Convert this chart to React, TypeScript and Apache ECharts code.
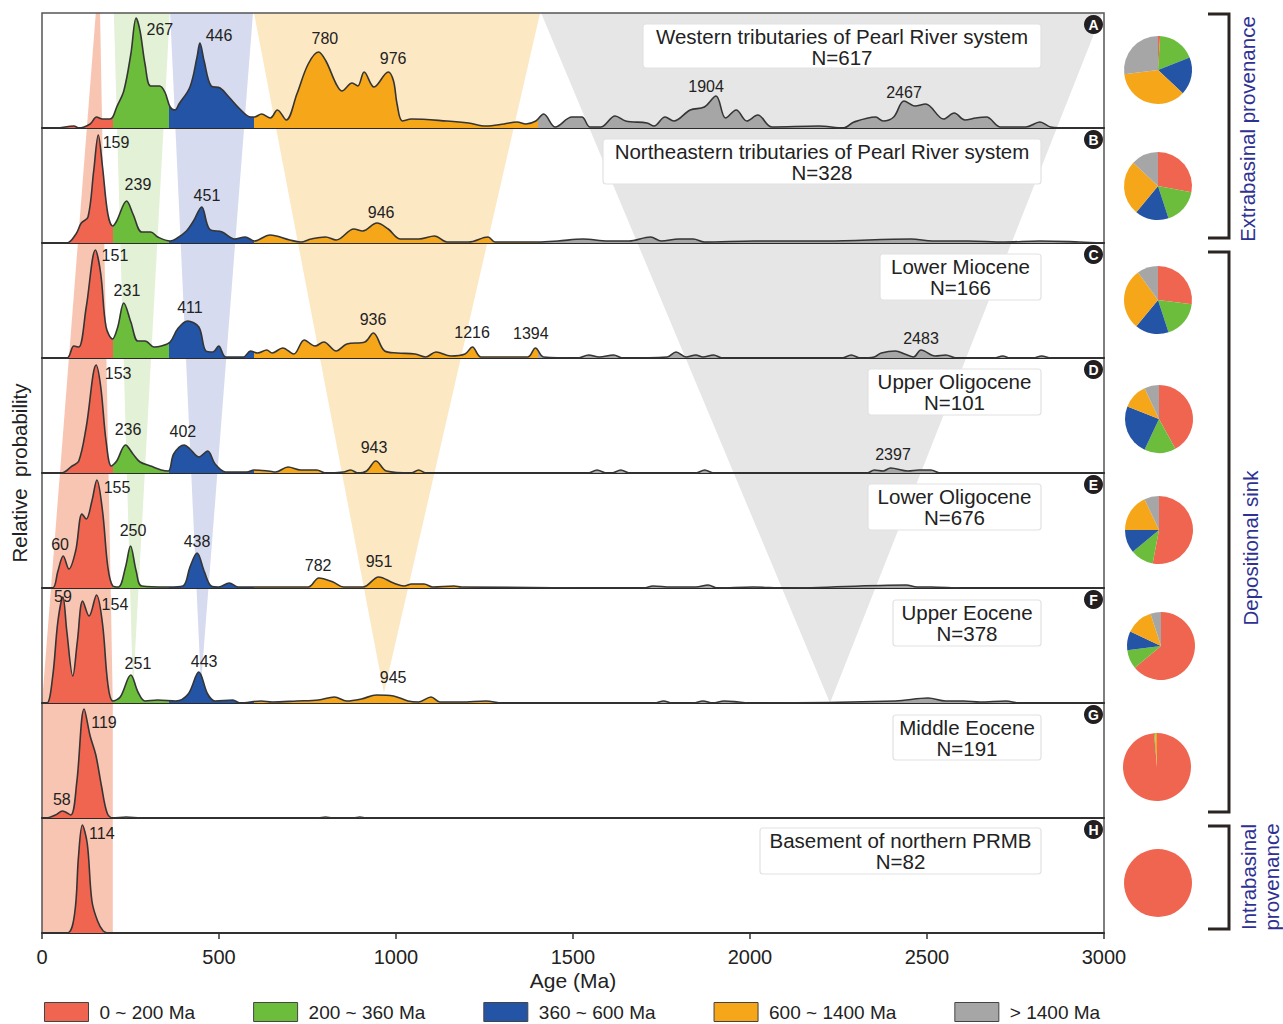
import React, { useEffect, useRef } from "react";
import * as echarts from "echarts";

const FONT = "'Liberation Sans', Arial, Helvetica, sans-serif";

// Age ranges
const RANGE_NAMES = ["0 ~ 200 Ma", "200 ~ 360 Ma", "360 ~ 600 Ma", "600 ~ 1400 Ma", "> 1400 Ma"];
const RANGE_COLORS = ["#ef6550", "#6dbd3d", "#2354a5", "#f6a619", "#a6a6a6"];
const BAND_COLORS = ["#f9c5b3", "#e3f1d7", "#d6dbef", "#fde8c4", "#e6e6e6"];

const X_TICKS_MIN = 0;
const X_TICKS_MAX = 3000;
const X_TICK_STEP = 500;
const Y_MAX = 115;

const PANEL_LETTERS = ["A", "B", "C", "D", "E", "F", "G", "H"];
const PANEL_TITLES = [
  "Western tributaries of Pearl River system",
  "Northeastern tributaries of Pearl River system",
  "Lower Miocene",
  "Upper Oligocene",
  "Lower Oligocene",
  "Upper Eocene",
  "Middle Eocene",
  "Basement of northern PRMB",
];
const PANEL_N = ["N=617", "N=328", "N=166", "N=101", "N=676", "N=378", "N=191", "N=82"];

// KDE curves: [age Ma, relative probability]
const KDE_A: [number, number][] = [[0,0],[40,0],[90,2],[104,0],[136,4],[154,11],[171,9],[191,9],[200,11],[211,21],[231,37],[251,74],[266,110],[277,97],[291,64],[307,42],[332,42],[347,36],[362,21],[376,18],[387,24],[418,41],[438,71],[446,85],[458,67],[478,42],[503,40],[528,31],[559,19],[590,11],[600,11],[620,14],[645,10],[665,18],[690,8],[720,34],[752,64],[781,76],[802,67],[831,44],[847,37],[876,45],[892,42],[910,56],[938,41],[978,56],[993,47],[1003,24],[1018,7],[1044,9],[1144,7],[1205,5],[1254,2],[1305,4],[1342,6],[1367,4],[1395,7],[1417,14],[1450,1],[1497,11],[1525,11],[1548,1],[1578,1],[1619,12],[1649,7],[1709,5],[1729,2],[1760,11],[1785,7],[1831,18],[1871,21],[1904,32],[1931,10],[1961,18],[1991,7],[2022,13],[2062,1],[2194,2],[2264,0],[2294,6],[2355,11],[2376,7],[2406,11],[2435,27],[2466,22],[2496,24],[2547,9],[2577,15],[2607,8],[2638,10],[2668,11],[2708,1],[2779,1],[2819,6],[2849,1],[2900,0],[3000,0]];
const KDE_B: [number, number][] = [[0,0],[70,0],[96,9],[111,20],[130,26],[146,72],[159,108],[171,76],[186,29],[200,17],[211,22],[239,42],[257,29],[282,11],[307,11],[327,6],[362,2],[378,4],[408,12],[428,22],[451,36],[473,14],[509,11],[544,4],[574,6],[600,2],[644,8],[700,3],[731,1],[760,4],[801,6],[831,3],[881,14],[906,12],[946,20],[978,14],[1013,4],[1064,4],[1109,7],[1144,1],[1205,1],[1260,6],[1280,1],[1400,1],[1457,2],[1528,4],[1599,2],[1658,2],[1719,6],[1749,2],[1799,4],[1840,4],[1871,1],[2012,2],[2214,2],[2455,4],[2516,2],[2617,2],[2718,1],[2819,2],[2930,1],[3000,0]];
const KDE_C: [number, number][] = [[0,0],[70,0],[90,12],[104,11],[125,51],[151,108],[166,84],[181,31],[199,19],[214,31],[231,55],[251,36],[271,17],[291,17],[317,11],[337,12],[362,16],[383,29],[411,37],[443,31],[463,7],[483,6],[499,12],[519,1],[569,1],[589,7],[609,5],[635,8],[650,5],[680,10],[711,4],[741,18],[771,12],[796,16],[831,7],[861,14],[912,16],[936,25],[968,7],[1003,5],[1054,4],[1084,1],[1113,6],[1155,2],[1195,4],[1216,11],[1240,1],[1372,1],[1394,10],[1417,1],[1514,0],[1544,3],[1574,1],[1615,3],[1640,0],[1766,1],[1791,6],[1819,1],[1847,3],[1867,1],[1897,3],[1922,0],[2260,0],[2286,3],[2311,0],[2351,1],[2371,5],[2411,7],[2437,4],[2462,1],[2483,8],[2523,2],[2553,3],[2583,0],[2690,0],[2714,2],[2734,0],[2800,0],[2824,2],[2850,0],[3000,0]];
const KDE_D: [number, number][] = [[0,0],[54,0],[85,7],[104,12],[125,46],[153,108],[166,86],[181,32],[196,7],[211,12],[236,28],[257,19],[277,11],[307,7],[337,3],[357,2],[372,19],[402,28],[418,24],[443,16],[468,22],[489,9],[519,1],[579,1],[599,3],[640,2],[660,1],[695,6],[731,3],[776,3],[801,0],[852,1],[872,3],[892,0],[917,2],[943,12],[973,2],[1043,0],[1064,3],[1084,0],[1543,0],[1568,3],[1594,0],[1610,0],[1635,3],[1660,0],[1847,0],[1872,3],[1897,0],[2331,0],[2351,3],[2376,2],[2397,5],[2446,2],[2477,3],[2511,3],[2537,0],[3000,0]];
const KDE_E: [number, number][] = [[0,0],[30,0],[45,17],[60,32],[76,19],[95,37],[113,74],[125,69],[141,87],[155,108],[171,77],[186,21],[200,2],[216,1],[236,21],[250,42],[266,17],[282,2],[357,1],[398,2],[418,21],[438,35],[458,17],[478,2],[499,1],[529,5],[554,1],[752,1],[782,10],[822,6],[852,1],[907,1],[951,11],[993,5],[1023,2],[1044,4],[1079,4],[1104,1],[1164,2],[1185,1],[1700,0],[1726,2],[1776,1],[1847,1],[1882,3],[1907,0],[2008,1],[2100,0],[2441,3],[2472,1],[2512,1],[2600,0],[3000,0]];
const KDE_F: [number, number][] = [[0,0],[14,0],[30,26],[45,82],[59,106],[70,72],[87,27],[100,62],[115,102],[133,87],[154,108],[171,79],[186,19],[200,2],[221,6],[251,28],[271,11],[291,2],[327,3],[378,2],[413,9],[443,31],[468,9],[489,2],[539,3],[559,0],[619,2],[650,1],[720,2],[781,3],[826,6],[861,2],[902,4],[945,8],[993,7],[1034,2],[1064,1],[1099,6],[1124,1],[1185,1],[1254,2],[1300,0],[1730,0],[1756,2],[1780,0],[1840,0],[1867,2],[1895,0],[1927,2],[1968,1],[2000,0],[2411,2],[2503,5],[2553,2],[2604,2],[2650,1],[2723,2],[2760,0],[3000,0]];
const KDE_G: [number, number][] = [[0,0],[11,0],[38,3],[58,7],[81,3],[98,35],[119,109],[136,82],[152,63],[168,32],[184,5],[200,0],[238,1],[280,0],[780,0],[801,1],[820,0],[880,0],[898,1],[915,0],[3000,0]];
const KDE_H: [number, number][] = [[0,0],[71,0],[92,19],[103,76],[114,108],[128,89],[141,32],[157,12],[173,2],[189,0],[3000,0]];

// Peak labels: [text, age Ma, relative probability of label centre]
const PEAKS_A: [string, number, number][] = [["267",333,99],["446",500,93],["780",799,90],["976",992,70],["1904",1876,42],["2467",2435,36]];
const PEAKS_B: [string, number, number][] = [["159",209,101],["239",271,59],["451",466,48],["946",958,31]];
const PEAKS_C: [string, number, number][] = [["151",206,103],["231",240,68],["411",418,51],["936",935,39],["1216",1215,26],["1394",1381,25],["2483",2483,20]];
const PEAKS_D: [string, number, number][] = [["153",215,100],["236",243,44],["402",398,42],["943",938,26],["2397",2404,19]];
const PEAKS_E: [string, number, number][] = [["155",212,101],["60",51,44],["250",257,58],["438",438,47],["782",780,23],["951",952,27]];
const PEAKS_F: [string, number, number][] = [["59",59,107],["154",206,99],["251",271,40],["443",458,42],["945",992,26]];
const PEAKS_G: [string, number, number][] = [["119",175,96],["58",56,19]];
const PEAKS_H: [string, number, number][] = [["114",169,100]];

// Pie proportions (%) in order of RANGE_NAMES
const PIE_A = [1, 18, 18, 36, 27];
const PIE_B = [28, 17, 16, 26, 13];
const PIE_C = [27, 18, 16, 29, 10];
const PIE_D = [42, 15, 24, 12, 7];
const PIE_E = [53, 11, 11, 18, 7];
const PIE_F = [64, 9, 9, 13, 5];
const PIE_G = [98.6, 0.5, 0, 0.9, 0];
const PIE_H = [100, 0, 0, 0, 0];

const KDES = [KDE_A, KDE_B, KDE_C, KDE_D, KDE_E, KDE_F, KDE_G, KDE_H];
const PEAKS = [PEAKS_A, PEAKS_B, PEAKS_C, PEAKS_D, PEAKS_E, PEAKS_F, PEAKS_G, PEAKS_H];
const PIES = [PIE_A, PIE_B, PIE_C, PIE_D, PIE_E, PIE_F, PIE_G, PIE_H];

// background funnels: vertices [age Ma, panel index, y value]
const BANDS: [number, number, number][][] = [
  [[152, 0, 115], [164, 0, 115], [200, 5, 0], [200, 7, 0], [0, 7, 0], [0, 5, 0]],
  [[203, 0, 115], [361, 0, 115], [257, 5, 13]],
  [[362, 0, 115], [596, 0, 115], [449, 5, 18]],
  [[599, 0, 115], [1407, 0, 115], [966, 5, 10]],
  [[1410, 0, 115], [2995, 0, 115], [2226, 5, 0]],
];

// layout
const GRID_LEFT = 42;
const GRID_WIDTH = 1062;
const GRID_TOP = 13;
const PANEL_H = 115;
const PIE_CENTERS = [[1158, 70], [1158, 186], [1158, 300], [1159, 419], [1159, 530], [1161, 646], [1157, 767], [1158, 883]];
const PIE_R = 34;
const TITLE_BOXES = [[643, 24, 398, 44], [603, 139, 438, 45], [880, 254, 161, 46], [868, 369, 173, 46], [868, 484, 173, 46], [893, 600, 148, 46], [893, 715, 148, 45], [760, 828, 281, 46]];

export default function App() {
  const ref = useRef<HTMLDivElement>(null);
  useEffect(() => {
    const el = ref.current;
    if (!el) return;
    const chart = echarts.init(el, null, { renderer: "svg" });
    const n = KDES.length;
    const grids = KDES.map((_, i) => ({
      left: GRID_LEFT, top: GRID_TOP + PANEL_H * i, width: GRID_WIDTH, height: PANEL_H,
      show: true, borderColor: "#555", borderWidth: 1.5, backgroundColor: "transparent",
    }));
    const xAxes = KDES.map((_, i) => ({
      type: "value", gridIndex: i, min: X_TICKS_MIN, max: X_TICKS_MAX, interval: X_TICK_STEP,
      axisLine: { show: true, onZero: false, lineStyle: { color: "#2b2b2b", width: 2 } },
      axisTick: { show: i === n - 1, length: 6, lineStyle: { color: "#333", width: 1.5 } },
      axisLabel: { show: i === n - 1, fontSize: 20, color: "#222", fontFamily: FONT, margin: 14, formatter: (v: number) => String(v) },
      splitLine: { show: false },
      name: i === n - 1 ? "Age (Ma)" : "",
      nameLocation: "middle", nameGap: 37,
      nameTextStyle: { fontSize: 21, color: "#222", fontFamily: FONT },
    }));
    const yAxes = KDES.map((_, i) => ({ type: "value", gridIndex: i, min: 0, max: Y_MAX, show: false }));
    const series: any[] = [];
    const areaIdx: number[] = [];
    KDES.forEach((kde, i) => {
      areaIdx.push(series.length);
      series.push({
        type: "line", xAxisIndex: i, yAxisIndex: i, data: kde, smooth: 0.35, symbol: "none",
        lineStyle: { width: 0, opacity: 0 }, areaStyle: { opacity: 1 }, silent: true, z: 2,
      });
      series.push({
        type: "line", xAxisIndex: i, yAxisIndex: i, data: kde, smooth: 0.35, symbol: "none",
        lineStyle: { color: "#353535", width: 1.6 }, silent: true, z: 3,
      });
    });
    PIES.forEach((vals, i) => {
      series.push({
        type: "pie", center: PIE_CENTERS[i], radius: PIE_R, startAngle: 90, clockwise: true,
        label: { show: false }, labelLine: { show: false }, silent: true,
        itemStyle: { borderWidth: 0 }, emphasis: { disabled: true },
        data: RANGE_NAMES.map((nm, k) => ({ name: nm, value: vals[k], itemStyle: { color: RANGE_COLORS[k] } })),
      });
    });

    chart.setOption({
      animation: false,
      backgroundColor: "#fff",
      textStyle: { fontFamily: FONT },
      grid: grids,
      xAxis: xAxes,
      yAxis: yAxes,
      visualMap: [{
        type: "piecewise", show: false, dimension: 0, seriesIndex: areaIdx,
        pieces: [
          { lt: 200, color: RANGE_COLORS[0] },
          { gte: 200, lt: 360, color: RANGE_COLORS[1] },
          { gte: 360, lt: 600, color: RANGE_COLORS[2] },
          { gte: 600, lt: 1400, color: RANGE_COLORS[3] },
          { gte: 1400, color: RANGE_COLORS[4] },
        ],
      }],
      legend: {
        data: RANGE_NAMES, left: 44, top: 1002, padding: 0, icon: "rect", itemWidth: 44, itemHeight: 19, itemGap: 58,
        selectedMode: false,
        itemStyle: { borderColor: "#444", borderWidth: 1 },
        textStyle: { fontSize: 19, color: "#222", fontFamily: FONT, padding: [0, 0, 0, 6] },
      },
      series,
    });

    const elements: any[] = [];
    BANDS.forEach((band, b) => {
      const pts = band.map(([ma, g, v]) => chart.convertToPixel({ gridIndex: g } as any, [ma, v]) as number[]);
      elements.push({ type: "polygon", z: -1, silent: true, shape: { points: pts }, style: { fill: BAND_COLORS[b] } });
    });
    PEAKS.forEach((list, i) => {
      list.forEach(([txt, ma, v]) => {
        const p = chart.convertToPixel({ gridIndex: i } as any, [ma, v]) as number[];
        elements.push({
          type: "text", z: 10, x: p[0], y: p[1], silent: true,
          style: { text: txt, fontSize: 16, fontFamily: FONT, fill: "#222", align: "center", verticalAlign: "middle", textAlign: "center", textVerticalAlign: "middle" },
        });
      });
    });
    TITLE_BOXES.forEach(([x, y, w, h], i) => {
      elements.push({ type: "rect", z: 10, silent: true, shape: { x, y, width: w, height: h, r: 3 }, style: { fill: "#fff", stroke: "#e2e2e2", lineWidth: 1.2 } });
      [PANEL_TITLES[i], PANEL_N[i]].forEach((t, k) => {
        elements.push({
          type: "text", z: 11, x: x + w / 2, y: y + 12 + 21 * k, silent: true,
          style: { text: t, fontSize: 20.5, fontFamily: FONT, fill: "#222", align: "center", verticalAlign: "middle", textAlign: "center", textVerticalAlign: "middle" },
        });
      });
      const cy = GRID_TOP + PANEL_H * i + 11.5;
      elements.push({ type: "circle", z: 11, silent: true, shape: { cx: 1093.5, cy, r: 9.5 }, style: { fill: "#231f20" } });
      elements.push({
        type: "text", z: 12, x: 1093.5, y: cy + 0.5, silent: true,
        style: { text: PANEL_LETTERS[i], fontSize: 14, fontWeight: "bold", fontFamily: FONT, fill: "#fff", align: "center", verticalAlign: "middle", textAlign: "center", textVerticalAlign: "middle" },
      });
    });
    const brackets = [[14, 238], [252, 812], [826, 929]];
    brackets.forEach(([t, bt]) => {
      elements.push({ type: "polyline", z: 10, silent: true, shape: { points: [[1208, t], [1229, t], [1229, bt], [1208, bt]] }, style: { stroke: "#2b2522", lineWidth: 3, fill: null } });
    });
    const sideTexts: [string, number, number][] = [["Extrabasinal provenance", 1247, 129], ["Depositional sink", 1250, 548], ["Intrabasinal\nprovenance", 1260, 877]];
    sideTexts.forEach(([t, x, y]) => {
      elements.push({
        type: "text", z: 10, x, y, rotation: Math.PI / 2, silent: true,
        style: { text: t, fontSize: 20.5, lineHeight: 23, fontFamily: FONT, fill: "#2e3192", align: "center", verticalAlign: "middle", textAlign: "center", textVerticalAlign: "middle" },
      });
    });
    elements.push({
      type: "text", z: 10, x: 19, y: 473, rotation: Math.PI / 2, silent: true,
      style: { text: "Relative  probability", fontSize: 20.5, fontFamily: FONT, fill: "#222", align: "center", verticalAlign: "middle", textAlign: "center", textVerticalAlign: "middle" },
    });

    chart.setOption({ graphic: { elements } });
    return () => chart.dispose();
  }, []);
  return <div ref={ref} style={{ position: "absolute", left: 0, top: 0, width: 1283, height: 1024, background: "#fff" }} />;
}
